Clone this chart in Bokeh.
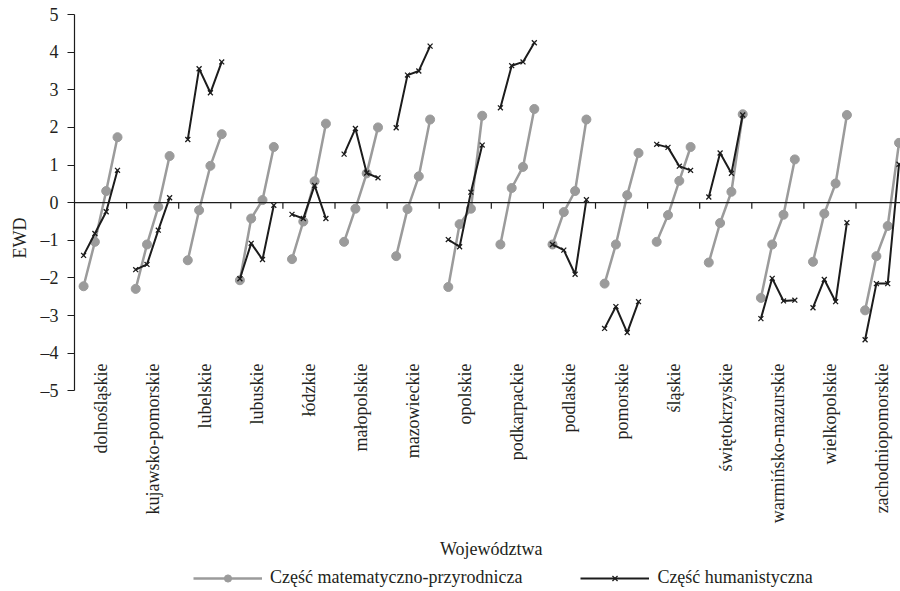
import numpy as np
from bokeh.plotting import figure
from bokeh.models import (Range1d, FixedTicker, Span, Legend, LegendItem, Label, Title)
from bokeh.core.properties import value
from bokeh.embed import file_html
from bokeh.resources import INLINE

categories = ["dolnośląskie", "kujawsko-pomorskie", "lubelskie", "lubuskie", "łódzkie",
              "małopolskie", "mazowieckie", "opolskie", "podkarpackie", "podlaskie",
              "pomorskie", "śląskie", "świętokrzyskie", "warmińsko-mazurskie",
              "wielkopolskie", "zachodniopomorskie"]

# Część matematyczno-przyrodnicza (4 values per voivodeship)
mat = [
    [-2.22, -1.04, 0.31, 1.74],
    [-2.29, -1.11, -0.11, 1.24],
    [-1.53, -0.20, 0.98, 1.82],
    [-2.06, -0.42, 0.07, 1.48],
    [-1.50, -0.50, 0.57, 2.10],
    [-1.04, -0.16, 0.78, 2.00],
    [-1.42, -0.17, 0.70, 2.21],
    [-2.24, -0.57, -0.16, 2.31],
    [-1.11, 0.39, 0.95, 2.49],
    [-1.11, -0.25, 0.31, 2.21],
    [-2.15, -1.11, 0.20, 1.32],
    [-1.04, -0.33, 0.58, 1.48],
    [-1.59, -0.54, 0.29, 2.35],
    [-2.53, -1.11, -0.32, 1.15],
    [-1.57, -0.29, 0.51, 2.33],
    [-2.86, -1.42, -0.62, 1.59],
]

# Część humanistyczna
hum = [
    [-1.40, -0.82, -0.24, 0.86],
    [-1.78, -1.64, -0.73, 0.13],
    [1.68, 3.56, 2.92, 3.74],
    [-2.02, -1.08, -1.51, -0.07],
    [-0.31, -0.42, 0.46, -0.42],
    [1.29, 1.97, 0.79, 0.66],
    [1.99, 3.39, 3.50, 4.16],
    [-0.98, -1.17, 0.28, 1.53],
    [2.52, 3.64, 3.74, 4.25],
    [-1.11, -1.26, -1.90, 0.08],
    [-3.34, -2.76, -3.45, -2.63],
    [1.55, 1.47, 0.97, 0.86],
    [0.15, 1.32, 0.78, 2.33],
    [-3.08, -2.01, -2.61, -2.59],
    [-2.79, -2.04, -2.63, -0.53],
    [-3.64, -2.15, -2.15, 1.02],
]

y_ticks = [5, 4, 3, 2, 1, 0, -1, -2, -3, -4, -5]
y_tick_labels = ["5", "4", "3", "2", "1", "0", "–1", "–2", "–3", "–4", "–5"]

series_names = ["Część matematyczno-przyrodnicza", "Część humanistyczna"]
x_title = "Województwa"
y_title = "EWD"

FONT = "Liberation Serif"
GRAY = "#9b9b9b"
BLACK = "#1c1c1c"
TXT = "#231f20"

n = len(categories)
k = len(mat[0])
offsets = 0.5 + (np.arange(k) - (k - 1) / 2) * 0.217

p = figure(width=900, height=591, x_range=Range1d(0, 15.854), y_range=Range1d(-10.33, 5),
           output_backend="svg", toolbar_location=None, x_axis_location=None,
           min_border_left=74, min_border_right=0, min_border_top=14, min_border_bottom=0)
p.outline_line_color = None
p.grid.visible = False
p.background_fill_color = "white"

ax = p.yaxis[0]
ax.ticker = FixedTicker(ticks=y_ticks, minor_ticks=[])
ax.major_label_overrides = {t: l for t, l in zip(y_ticks, y_tick_labels)}
ax.bounds = (-5, 5)
ax.major_tick_out = 7
ax.major_tick_in = 0
ax.minor_tick_out = 0
ax.minor_tick_in = 0
ax.major_label_standoff = 9
ax.axis_line_color = BLACK
ax.axis_line_width = 1.2
ax.major_tick_line_color = BLACK
ax.major_tick_line_width = 1.2
ax.major_label_text_font = FONT
ax.major_label_text_font_size = "18px"
ax.major_label_text_color = TXT

# y title on the left, placed near the 0 level
p.add_layout(Title(text=y_title, align="right", offset=203, vertical_align="middle",
                   standoff=14, text_font=FONT, text_font_size="18px",
                   text_font_style="normal", text_color=TXT), "left")

# zero line acting as category axis
p.add_layout(Span(location=0, dimension="width", line_color=BLACK, line_width=1.2))
bounds = list(range(1, n))
p.segment(x0=bounds, y0=0, x1=bounds, y1=-0.16, line_color=BLACK, line_width=1.2)

# series
mx = [list(i + offsets) for i in range(n)]
gl = p.multi_line(xs=mx, ys=mat, line_color=GRAY, line_width=2.5)
gs = p.scatter(x=np.concatenate(mx), y=np.concatenate(mat), marker="circle", size=9,
               fill_color=GRAY, line_color=GRAY)
bl = p.multi_line(xs=mx, ys=hum, line_color=BLACK, line_width=2)
bs = p.scatter(x=np.concatenate(mx), y=np.concatenate(hum), marker="x", size=7,
               line_color=BLACK, line_width=1.3)

# category labels
LABEL_Y = -4.27
p.text(x=[i + 0.5 for i in range(n)], y=[LABEL_Y] * n, text=categories, angle=np.pi / 2,
       text_align="right", text_baseline="middle", text_font=value(FONT),
       text_font_size="18px", text_color=TXT)

p.add_layout(Label(x=n / 2, x_units="data", y=43, y_units="screen", text=x_title,
                   text_align="center", text_baseline="middle", text_font=FONT,
                   text_font_size="18px", text_color=TXT))

legend = Legend(items=[LegendItem(label=series_names[0], renderers=[gl, gs]),
                       LegendItem(label=series_names[1], renderers=[bl, bs])],
                orientation="horizontal", location=(119, 3), glyph_width=69,
                glyph_height=18, label_height=18, label_standoff=8, spacing=58,
                padding=0, margin=0, border_line_color=None, background_fill_alpha=0,
                label_text_font=FONT, label_text_font_size="18px", label_text_color=TXT)
p.add_layout(legend)

open("out.html", "w").write(file_html(p, INLINE))
